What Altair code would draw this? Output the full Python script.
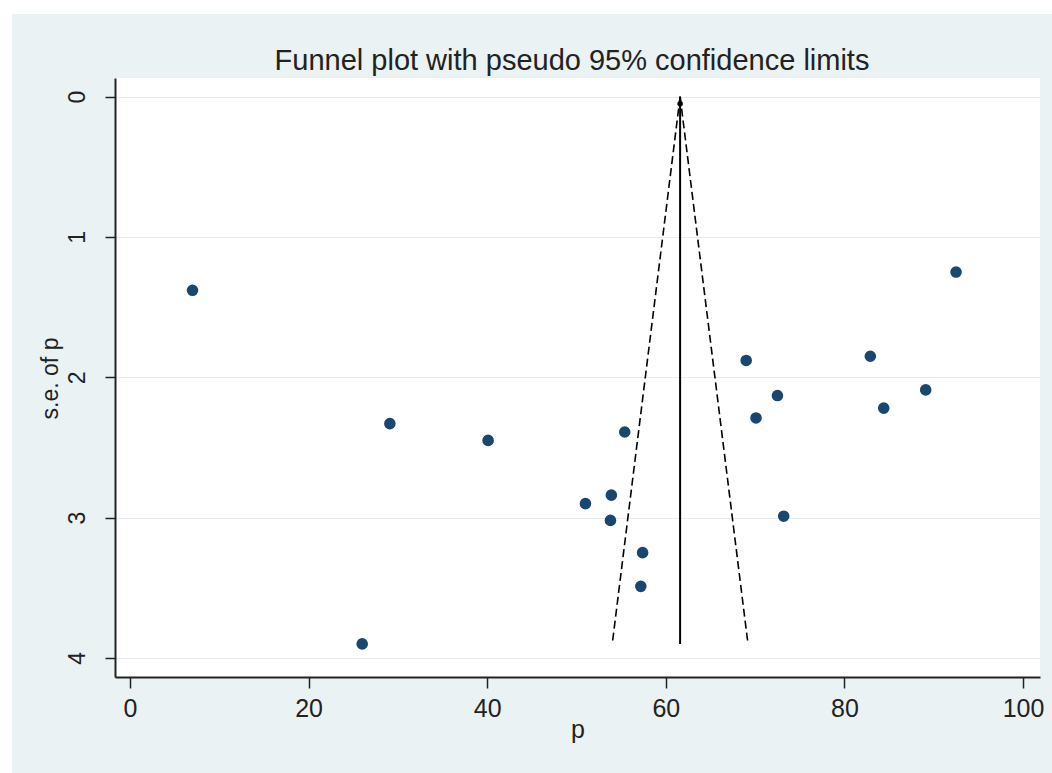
import altair as alt
import pandas as pd

# ---- data ----
p_vals = [7.0, 92.5, 69.0, 82.9, 72.5, 70.1, 89.1, 84.4, 73.2, 29.1, 40.1, 26.0,
          55.4, 53.9, 51.0, 53.8, 57.4, 57.2]
se_vals = [1.38, 1.25, 1.88, 1.85, 2.13, 2.29, 2.09, 2.22, 2.99, 2.33, 2.45, 3.90,
           2.39, 2.84, 2.90, 3.02, 3.25, 3.49]

pooled_p = 61.6
funnel_se_top = 0.0
funnel_se_bottom = 3.9
funnel_lower_p_bottom = 54.0
funnel_upper_p_bottom = 69.2

x_ticks = [0, 20, 40, 60, 80, 100]
y_ticks = [0, 1, 2, 3, 4]

title_text = "Funnel plot with pseudo 95% confidence limits"

# ---- tables ----
pts = pd.DataFrame({"p": p_vals, "se": se_vals})
funnel = pd.DataFrame({
    "side": ["lower", "lower", "upper", "upper"],
    "p": [pooled_p, funnel_lower_p_bottom, pooled_p, funnel_upper_p_bottom],
    "se": [funnel_se_top, funnel_se_bottom, funnel_se_top, funnel_se_bottom],
})
center = pd.DataFrame({"p": [pooled_p], "se": [funnel_se_top], "se2": [funnel_se_bottom]})
apex = pd.DataFrame({"p": [pooled_p], "se": [0.05]})
dummy = pd.DataFrame({"a": [0]})
title_df = pd.DataFrame({"t": [title_text]})

FONT = "Liberation Sans"
BG = "#eaf2f3"

xscale = alt.Scale(domain=[-1.68, 101.9], nice=False, zero=False)
yscale = alt.Scale(domain=[-0.133, 4.136], nice=False, zero=False, reverse=True)

xaxis = alt.Axis(values=x_ticks, grid=False, title="p", format="d",
                 tickSize=11, labelPadding=8, labelFontSize=25, titleFontSize=25,
                 titleY=60, titleBaseline="alphabetic")
yaxis = alt.Axis(values=y_ticks, grid=True, title="s.e. of p", format="d",
                 tickSize=10, labelPadding=21, labelFontSize=23, titleFontSize=23,
                 labelAngle=270, labelAlign="center", labelBaseline="alphabetic",
                 titleX=-58, titleY=300, titleBaseline="alphabetic", titleAlign="center")

# white strips framing the picture (top and left)
strip_top = alt.Chart(dummy).mark_rect(color="white").encode(
    x=alt.value(-115), x2=alt.value(937), y=alt.value(-78), y2=alt.value(-64))
strip_left = alt.Chart(dummy).mark_rect(color="white").encode(
    x=alt.value(-115), x2=alt.value(-103), y=alt.value(-78), y2=alt.value(695))

title_mark = alt.Chart(title_df).mark_text(
    font=FONT, fontSize=29, color="#222222", align="center", baseline="alphabetic"
).encode(text="t:N", x=alt.value(457), y=alt.value(-8))

base_x = alt.X("p:Q", scale=xscale, axis=xaxis)
base_y = alt.Y("se:Q", scale=yscale, axis=yaxis)

lines = alt.Chart(funnel).mark_line(color="black", strokeWidth=1.6, strokeDash=[8, 4]).encode(
    x=base_x, y=base_y, detail="side:N", order=alt.Order("se:Q"))

vline = alt.Chart(center).mark_rule(color="black", strokeWidth=2).encode(
    x=alt.X("p:Q", scale=xscale), y=alt.Y("se:Q", scale=yscale), y2="se2:Q")

apex_pt = alt.Chart(apex).mark_point(filled=True, color="black", size=30, opacity=1).encode(
    x=alt.X("p:Q", scale=xscale), y=alt.Y("se:Q", scale=yscale))

points = alt.Chart(pts).mark_point(filled=True, color="#1a476f", size=135, opacity=1).encode(
    x=alt.X("p:Q", scale=xscale), y=alt.Y("se:Q", scale=yscale))

chart = alt.layer(strip_top, strip_left, title_mark, lines, vline, apex_pt, points).properties(
    width=925, height=599,
    autosize=alt.AutoSizeParams(type="none"),
    padding={"left": 115, "top": 78, "right": 12, "bottom": 96},
    background=BG,
).configure_view(fill="white", strokeWidth=0).configure_axis(
    labelFont=FONT, titleFont=FONT, labelColor="#222222", titleColor="#222222",
    titleFontWeight="normal", domainColor="#222222", domainWidth=2,
    tickColor="#222222", tickWidth=1.5, gridColor="#e6eced", gridWidth=1.2,
)

chart.save("out.html", embed_options={"renderer": "svg", "actions": False})
